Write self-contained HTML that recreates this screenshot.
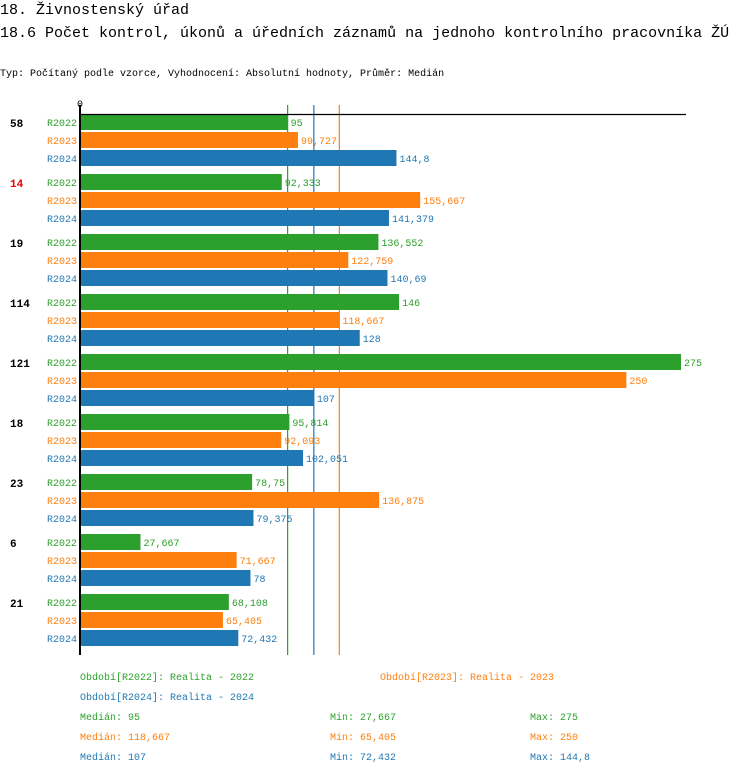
<!DOCTYPE html>
<html><head><meta charset="utf-8">
<style>
body{margin:0;background:#fff;width:750px;height:774px;overflow:hidden;font-family:"Liberation Mono",monospace;}
svg text{font-family:"Liberation Mono",monospace;}
</style></head>
<body>
<svg id="c" width="750" height="774" xmlns="http://www.w3.org/2000/svg">
<text x="0" y="14" font-size="15">18. Živnostenský úřad</text>
<text x="0" y="37" font-size="15">18.6 Počet kontrol, úkonů a úředních záznamů na jednoho kontrolního pracovníka ŽÚ</text>
<text x="0" y="76" font-size="10">Typ: Počítaný podle vzorce, Vyhodnocení: Absolutní hodnoty, Průměr: Medián</text>
<text x="80" y="107" font-size="10" text-anchor="middle">0</text>
<g id="bars"></g>
<line x1="80" y1="114.5" x2="686" y2="114.5" stroke="#000" stroke-width="1.2"/>
<line x1="80" y1="105" x2="80" y2="655" stroke="#000" stroke-width="2"/>
<g id="legend" font-size="10">
<text x="80" y="680" fill="#2ca02c">Období[R2022]: Realita - 2022</text>
<text x="380" y="680" fill="#ff7f0e">Období[R2023]: Realita - 2023</text>
<text x="80" y="700" fill="#1f77b4">Období[R2024]: Realita - 2024</text>
<text x="80" y="720" fill="#2ca02c">Medián: 95</text>
<text x="330" y="720" fill="#2ca02c">Min: 27,667</text>
<text x="530" y="720" fill="#2ca02c">Max: 275</text>
<text x="80" y="740" fill="#ff7f0e">Medián: 118,667</text>
<text x="330" y="740" fill="#ff7f0e">Min: 65,405</text>
<text x="530" y="740" fill="#ff7f0e">Max: 250</text>
<text x="80" y="760" fill="#1f77b4">Medián: 107</text>
<text x="330" y="760" fill="#1f77b4">Min: 72,432</text>
<text x="530" y="760" fill="#1f77b4">Max: 144,8</text>
</g>
</svg>
<script>
const categories=["58","14","19","114","121","18","23","6","21"];
const highlight=[false,true,false,false,false,false,false,false,false];
const seriesNames=["R2022","R2023","R2024"];
const r2022=[95,92.333,136.552,146,275,95.814,78.75,27.667,68.108];
const r2023=[99.727,155.667,122.759,118.667,250,92.093,136.875,71.667,65.405];
const r2024=[144.8,141.379,140.69,128,107,102.051,79.375,78,72.432];
const medians=[95,118.667,107];
const colors=["#2ca02c","#ff7f0e","#1f77b4"];
const ns="http://www.w3.org/2000/svg";
const g=document.getElementById('bars');
const x=v=>80+v*601/275;
const gy=i=>114+i*60;
function fmt(v){return String(Math.round(v*1000)/1000).replace('.',',');}
function mk(t,a){const e=document.createElementNS(ns,t);for(const k in a)e.setAttribute(k,a[k]);g.appendChild(e);return e;}
const series=[r2022,r2023,r2024];
medians.forEach((m,j)=>{
  const l=mk('line',{x1:x(m),x2:x(m),y1:105,y2:655,stroke:colors[j],'stroke-width':1.2});
  
  
});
categories.forEach((c,i)=>{
  const t=mk('text',{x:10,y:gy(i)+13,'font-size':'11','font-weight':'bold',fill:highlight[i]?'#e00':'#000'});
  t.textContent=c;
  
  
  series.forEach((s,j)=>{
    const y=gy(i)+j*18;
    const l=mk('text',{x:77,y:y+12,'font-size':'10','text-anchor':'end',fill:colors[j]});
    l.textContent=seriesNames[j];
    
    
    const r=mk('rect',{x:80,y:y,width:x(s[i])-80,height:16,fill:colors[j]});
    
    
    const v=mk('text',{x:x(s[i])+3,y:y+12,'font-size':'10',fill:colors[j]});
    v.textContent=fmt(s[i]);
    
    
  });
});
</script>
</body></html>
